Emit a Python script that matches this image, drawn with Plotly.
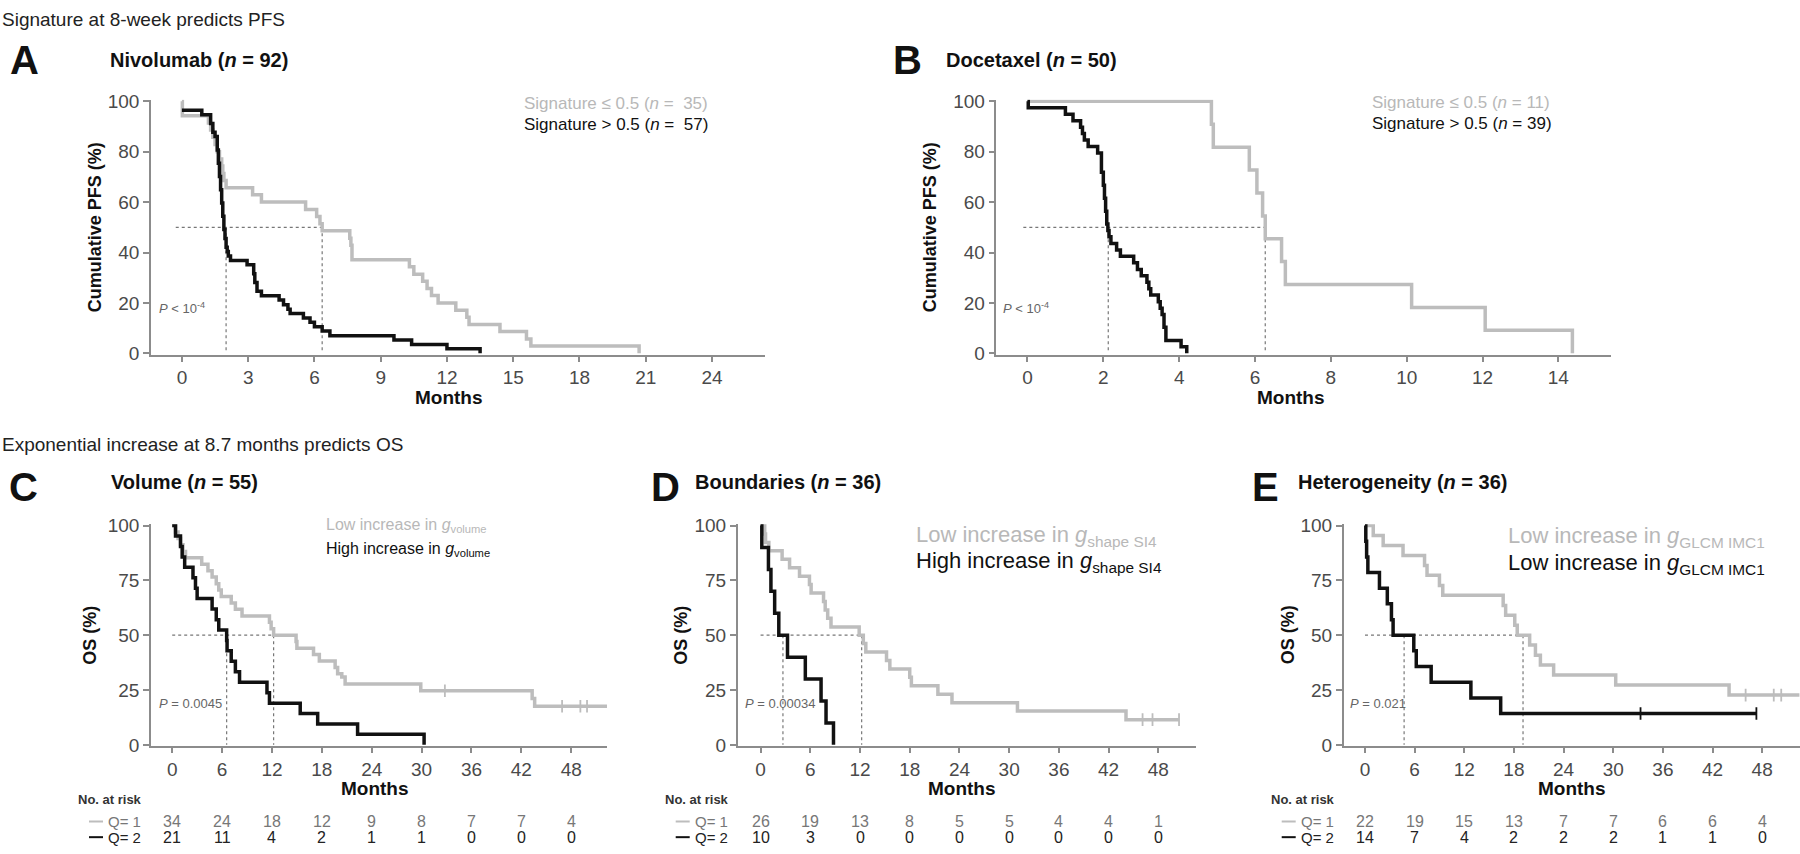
import plotly.graph_objects as go

W, H = 1800, 854

# ---------------- data ----------------
# Panel A - Nivolumab, PFS (months, %)
A_low_t = [0, 0.02, 1.2, 1.3, 1.4, 1.5, 1.6, 1.7, 1.8, 1.85, 1.9, 2.0, 3.2, 3.6, 5.6, 6.1, 6.25, 6.35,
           7.6, 7.65, 7.7, 10.3, 10.5, 10.9, 11.1, 11.3, 11.6, 12.4, 12.9, 13.0, 14.4, 15.6, 15.8, 20.7]
A_low_s = [100, 94.3, 91.4, 88.6, 85.7, 82.9, 80.0, 77.1, 74.3, 71.4, 68.6, 65.7, 62.9, 60.0, 57.1, 54.3, 51.4, 48.6,
           45.7, 42.9, 37.1, 34.3, 31.4, 28.6, 25.7, 22.9, 20.0, 17.1, 14.3, 11.4, 8.6, 5.7, 2.9, 0]
A_high_t = [0, 0.9, 1.3, 1.4, 1.5, 1.6, 1.65, 1.7, 1.75, 1.8, 1.85, 1.9, 1.95, 2.0, 2.05, 2.1, 2.2, 2.95,
            3.25, 3.3, 3.4, 3.6, 4.4, 4.6, 4.8, 4.9, 5.5, 5.8, 6.0, 6.35, 6.7, 9.6, 10.4, 12.0, 13.5]
A_high_s = [96.5, 94.7, 91.2, 87.7, 86.0, 80.7, 75.4, 70.2, 64.9, 59.6, 54.4, 49.1, 45.6, 42.1, 40.4, 38.6, 36.8, 35.1,
            31.6, 28.1, 24.6, 22.8, 21.1, 19.3, 17.5, 15.8, 14.0, 12.3, 10.5, 8.8, 7.0, 5.3, 3.5, 1.8, 0]
A_medians = [2.0, 6.35]
A_median_from = -0.28

# Panel B - Docetaxel, PFS
B_low_t = [0, 4.85, 4.9, 5.85, 6.05, 6.2, 6.27, 6.7, 6.8, 10.13, 12.07, 14.37]
B_low_s = [100, 90.9, 81.8, 72.7, 63.6, 54.5, 45.5, 36.4, 27.3, 18.2, 9.1, 0]
B_high_t = [0, 0.02, 1.0, 1.2, 1.4, 1.45, 1.5, 1.6, 1.85, 1.95, 2.0, 2.03, 2.06, 2.09, 2.12, 2.15, 2.2, 2.35,
            2.45, 2.8, 2.9, 3.0, 3.15, 3.2, 3.25, 3.45, 3.5, 3.55, 3.6, 3.65, 4.05, 4.2]
B_high_s = [100, 97.4, 94.9, 92.3, 89.7, 87.2, 84.6, 82.1, 79.5, 71.8, 66.7, 61.5, 56.4, 51.3, 48.7, 46.2, 43.6, 41.0,
            38.5, 35.9, 33.3, 30.8, 28.2, 25.6, 23.1, 20.5, 17.9, 15.4, 10.3, 5.1, 2.6, 0]
B_medians = [2.13, 6.27]
B_median_from = -0.11

# Panel C - Volume, OS
C_low_t = [0, 0.4, 0.7, 1.0, 1.3, 1.6, 3.55, 4.3, 4.8, 5.3, 5.6, 5.9, 7.1, 7.6, 8.4, 11.7, 11.9, 12.2, 14.9, 15.0,
           17.0, 17.7, 19.6, 19.9, 20.4, 20.8, 29.9, 43.3, 43.6, 52.3]
C_low_s = [100, 97.1, 94.1, 91.2, 88.2, 85.3, 82.4, 79.4, 76.5, 73.5, 70.6, 67.6, 64.7, 61.8, 58.8, 55.9, 52.9, 50.0,
           47.1, 44.1, 41.2, 38.2, 35.3, 32.4, 30.9, 27.8, 24.7, 21.1, 17.6, 17.6]
C_low_cens_t = [32.8, 46.9, 49.1, 49.9]
C_low_cens_s = [24.7, 17.6, 17.6, 17.6]
C_high_t = [0, 0.4, 1.0, 1.2, 1.5, 2.5, 2.8, 3.0, 4.8, 5.3, 5.6, 6.55, 6.6, 7.1, 7.6, 8.1, 11.4, 11.7, 15.4, 17.5, 22.3, 30.3]
C_high_s = [100, 95.2, 90.5, 85.7, 81.0, 76.2, 71.4, 66.7, 61.9, 57.1, 52.4, 47.6, 42.9, 38.1, 33.3, 28.6, 23.8, 19.0,
            14.3, 9.5, 4.8, 0]
C_medians = [6.55, 12.2]
C_median_from = 0

# Panel D - Boundaries, OS
D_low_t = [0, 0.5, 0.6, 1.0, 2.6, 3.5, 4.7, 5.9, 6.1, 7.6, 7.8, 8.1, 8.5, 11.9, 12.4, 12.7, 15.2, 15.6, 18.0, 18.2,
           21.4, 23.1, 31.0, 44.1, 50.5]
D_low_s = [100, 96.2, 92.3, 88.5, 84.6, 80.8, 76.9, 73.1, 69.2, 65.4, 61.5, 57.7, 53.8, 50.0, 46.2, 42.3, 38.5, 34.6,
           30.8, 26.9, 23.1, 19.2, 15.4, 11.5, 11.5]
D_low_cens_t = [46.1, 47.3, 50.5]
D_low_cens_s = [11.5, 11.5, 11.5]
D_high_t = [0, 0.15, 0.95, 1.25, 1.7, 2.2, 3.25, 5.4, 7.3, 7.9, 8.8]
D_high_s = [100, 90, 80, 70, 60, 50, 40, 30, 20, 10, 0]
D_medians = [2.7, 12.2]
D_median_from = 0

# Panel E - Heterogeneity, OS
E_low_t = [0, 1.0, 2.2, 4.6, 7.2, 7.5, 9.0, 9.4, 16.7, 17.0, 18.1, 18.4, 19.9, 20.6, 21.2, 22.8, 30.3, 44.0, 52.5]
E_low_s = [100, 95.5, 90.9, 86.4, 81.8, 77.3, 72.7, 68.2, 63.6, 59.1, 54.5, 50.0, 45.5, 40.9, 36.4, 31.8, 27.3, 22.7, 22.7]
E_low_cens_t = [46.0, 49.4, 50.3]
E_low_cens_s = [22.7, 22.7, 22.7]
E_high_t = [0, 0.1, 0.2, 0.35, 1.75, 2.7, 3.2, 3.4, 5.9, 6.2, 8.0, 12.8, 16.4, 47.3]
E_high_s = [100, 92.9, 85.7, 78.6, 71.4, 64.3, 57.1, 50.0, 42.9, 35.7, 28.6, 21.4, 14.3, 14.3]
E_high_cens_t = [33.3, 47.3]
E_high_cens_s = [14.3, 14.3]
E_medians = [4.73, 19.1]
E_median_from = 0

# ticks
A_xticks = [0, 3, 6, 9, 12, 15, 18, 21, 24]
B_xticks = [0, 2, 4, 6, 8, 10, 12, 14]
OS_xticks = [0, 6, 12, 18, 24, 30, 36, 42, 48]
PFS_yticks = [0, 20, 40, 60, 80, 100]
OS_yticks = [0, 25, 50, 75, 100]

# numbers at risk (at OS_xticks)
C_risk_q1 = [34, 24, 18, 12, 9, 8, 7, 7, 4]
C_risk_q2 = [21, 11, 4, 2, 1, 1, 0, 0, 0]
D_risk_q1 = [26, 19, 13, 8, 5, 5, 4, 4, 1]
D_risk_q2 = [10, 3, 0, 0, 0, 0, 0, 0, 0]
E_risk_q1 = [22, 19, 15, 13, 7, 7, 6, 6, 4]
E_risk_q2 = [14, 7, 4, 2, 2, 2, 1, 1, 0]

# ---------------- styling ----------------
NARROW = "Liberation Sans Narrow, Arial Narrow, Liberation Sans, Arial, sans-serif"
SANS = "Liberation Sans, Arial, Helvetica, sans-serif"
GRAY = "#bdbdbd"
BLACK = "#111111"
AXIS = "#8c8c8c"
TICKTXT = "#4a4a4a"
DOT = "#777777"
YPAD = 0.6
LW = 3.5


def X(p):
    return p / W


def Y(p):
    return 1 - p / H


def it(txt, size):
    return '<span style="font-style:italic;font-size:%dpx">%s</span>' % (size, txt)


fig = go.Figure()
annotations = []
shapes = []
axes = {}


def ann(text, x, y, size, color="#111111", family=SANS, xanchor="left", yanchor="middle",
        xref="paper", yref="paper", textangle=0):
    annotations.append(dict(text=text, x=x, y=y, xref=xref, yref=yref, showarrow=False,
                            font=dict(size=size, color=color, family=family),
                            xanchor=xanchor, yanchor=yanchor, textangle=textangle))


def add_panel(i, xpx, ypx, xr, xticks, yticks, low, high, low_cens, high_cens, medians, med_from,
              letter, letter_xy, title, title_xy, ytitle, ytitle_x, months_xy, legend, legend_x, legend_y,
              legend_size, legend_family, pval, pval_xy, risk=None):
    sfx = "" if i == 1 else str(i)
    xa, ya = "x" + sfx, "y" + sfx
    s = (ypx[1] - ypx[0]) / 100.0
    axes["xaxis" + sfx] = dict(domain=[X(xpx[0]), X(xpx[1])], range=list(xr), anchor=ya,
                               tickmode="array", tickvals=xticks, ticks="outside", ticklen=5, tickwidth=1.5,
                               tickcolor=AXIS, showline=True, linecolor=AXIS, linewidth=1.5,
                               showgrid=False, zeroline=False,
                               tickfont=dict(family=NARROW, size=19, color=TICKTXT), fixedrange=True)
    axes["yaxis" + sfx] = dict(domain=[Y(ypx[1] + YPAD * s), Y(ypx[0] - YPAD * s)],
                               range=[-YPAD, 100 + YPAD], anchor=xa,
                               tickmode="array", tickvals=yticks, ticks="outside", ticklen=6, tickwidth=1.5,
                               tickcolor=AXIS, showline=True, linecolor=AXIS, linewidth=1.5,
                               showgrid=False, zeroline=False,
                               tickfont=dict(family=NARROW, size=19, color=TICKTXT), fixedrange=True)
    # median reference lines
    m1, m2 = medians
    fig.add_trace(go.Scatter(x=[med_from, m2, None, m1, m1, None, m2, m2],
                             y=[50, 50, None, 50, 0, None, 50, 0], mode="lines",
                             line=dict(color=DOT, width=1.2, dash="dot"),
                             xaxis=xa, yaxis=ya, hoverinfo="skip", showlegend=False))
    # KM curves
    for (t, sv), col in ((low, GRAY), (high, BLACK)):
        fig.add_trace(go.Scatter(x=t, y=sv, mode="lines", line=dict(shape="hv", color=col, width=LW),
                                 xaxis=xa, yaxis=ya, hoverinfo="skip", showlegend=False))
    for cens, col in ((low_cens, GRAY), (high_cens, BLACK)):
        if cens is None:
            continue
        fig.add_trace(go.Scatter(x=cens[0], y=cens[1], mode="markers",
                                 marker=dict(symbol="line-ns", size=9, line=dict(color=col, width=1.8)),
                                 xaxis=xa, yaxis=ya, hoverinfo="skip", showlegend=False))
    # texts
    ann("<b>%s</b>" % letter, X(letter_xy[0]), Y(letter_xy[1]), 40, family=SANS)
    ann("<b>%s</b>" % title, X(title_xy[0]), Y(title_xy[1]), 20, family=SANS)
    ann("<b>%s</b>" % ytitle, X(ytitle_x), Y((ypx[0] + ypx[1]) / 2), 18, xanchor="center",
        textangle=-90, family=SANS)
    ann("<b>Months</b>", X(months_xy[0]), Y(months_xy[1]), 19, xanchor="center", family=SANS)
    ann(legend[0], X(legend_x), Y(legend_y[0]), legend_size, color="#b8b8b8", family=legend_family)
    ann(legend[1], X(legend_x), Y(legend_y[1]), legend_size, color=BLACK, family=legend_family)
    ann(pval, pval_xy[0], pval_xy[1], 13, color="#666666", family=NARROW, xref=xa, yref=ya)
    if risk is not None:
        q1, q2 = risk
        ax = xpx[0]
        ann("<b>No. at risk</b>", X(ax - 75), Y(808), 13, color="#333333", family=NARROW)
        for row, (vals, col, lab, ypos) in enumerate(((q1, "#777777", "Q= 1", 830), (q2, "#222222", "Q= 2", 846))):
            shapes.append(dict(type="line", xref="paper", yref="paper", x0=X(ax - 62), x1=X(ax - 48),
                               y0=Y(ypos), y1=Y(ypos),
                               line=dict(color=GRAY if row == 0 else BLACK, width=2)))
            ann(lab, X(ax - 8), Y(ypos), 15, color=col, family=NARROW, xanchor="right")
            for tv, v in zip(xticks, vals):
                ann(str(v), tv, Y(ypos), 16, color=col, family=NARROW, xanchor="center", xref=xa)


# section headers
ann("Signature at 8-week predicts PFS", 0, Y(11), 19, color="#222222")
ann("Exponential increase at 8.7 months predicts OS", 0, Y(445), 19, color="#222222")

sig_font = NARROW
add_panel(1, (151, 765), (94.3, 351.7), (-1.40, 26.4), A_xticks, PFS_yticks,
          (A_low_t, A_low_s), (A_high_t, A_high_s), None, None, A_medians, A_median_from,
          "A", (8, 52), "Nivolumab (%s = 92)" % it("n", 20), (108, 52), "Cumulative PFS (%)", 95, (449, 397),
          ("Signature ≤ 0.5 (%s =  35)" % it("n", 17), "Signature > 0.5 (%s =  57)" % it("n", 17)),
          522, (97, 118), 17, sig_font,
          "%s < 10<sup>-4</sup>" % it("P", 13), (-1.13, 18))

add_panel(2, (996.4, 1610.7), (94.3, 351.7), (-0.82, 15.38), B_xticks, PFS_yticks,
          (B_low_t, B_low_s), (B_high_t, B_high_s), None, None, B_medians, B_median_from,
          "B", (891, 52), "Docetaxel (%s = 50)" % it("n", 20), (944, 52), "Cumulative PFS (%)", 930, (1291, 397),
          ("Signature ≤ 0.5 (%s = 11)" % it("n", 17), "Signature > 0.5 (%s = 39)" % it("n", 17)),
          1370, (96, 117), 17, sig_font,
          "%s < 10<sup>-4</sup>" % it("P", 13), (-0.71, 18))

add_panel(3, (151, 607.4), (527.7, 751.7), (-2.55, 52.35), OS_xticks, OS_yticks,
          (C_low_t, C_low_s), (C_high_t, C_high_s), (C_low_cens_t, C_low_cens_s), None, C_medians, C_median_from,
          "C", (7, 488), "Volume (%s = 55)" % it("n", 20), (109, 483), "OS (%)", 90.5, (374.6, 796),
          ("Low increase in %s<sub>volume</sub>" % it("g", 16), "High increase in %s<sub>volume</sub>" % it("g", 16)),
          324, (528, 552), 16, NARROW, "%s = 0.0045" % it("P", 13), (-1.8, 19), risk=(C_risk_q1, C_risk_q2))

add_panel(4, (737.7, 1195.6), (527.7, 751.7), (-2.76, 52.5), OS_xticks, OS_yticks,
          (D_low_t, D_low_s), (D_high_t, D_high_s), (D_low_cens_t, D_low_cens_s), None, D_medians, D_median_from,
          "D", (649, 488), "Boundaries (%s = 36)" % it("n", 20), (692.5, 483), "OS (%)", 681.6, (962.4, 796),
          ("Low increase in %s<sub>shape SI4</sub>" % it("g", 22), "High increase in %s<sub>shape SI4</sub>" % it("g", 22)),
          914, (538, 565), 22, SANS, "%s = 0.00034" % it("P", 13), (-2.1, 19), risk=(D_risk_q1, D_risk_q2))

add_panel(5, (1343.7, 1800), (527.7, 751.7), (-2.57, 52.57), OS_xticks, OS_yticks,
          (E_low_t, E_low_s), (E_high_t, E_high_s), (E_low_cens_t, E_low_cens_s), (E_high_cens_t, E_high_cens_s),
          E_medians, E_median_from,
          "E", (1250, 488), "Heterogeneity (%s = 36)" % it("n", 20), (1296, 483), "OS (%)", 1288, (1571.7, 796),
          ("Low increase in %s<sub>GLCM IMC1</sub>" % it("g", 22), "Low increase in %s<sub>GLCM IMC1</sub>" % it("g", 22)),
          1505.5, (539, 567), 22, SANS, "%s = 0.021" % it("P", 13), (-2.05, 19), risk=(E_risk_q1, E_risk_q2))

fig.update_layout(width=W, height=H, margin=dict(l=0, r=0, t=0, b=0), paper_bgcolor="white",
                  plot_bgcolor="white", annotations=annotations, shapes=shapes, showlegend=False, **axes)

fig.write_html("out.html", config={"displayModeBar": False},
               post_script="document.body.style.margin='0px';document.body.style.overflow='hidden';")
